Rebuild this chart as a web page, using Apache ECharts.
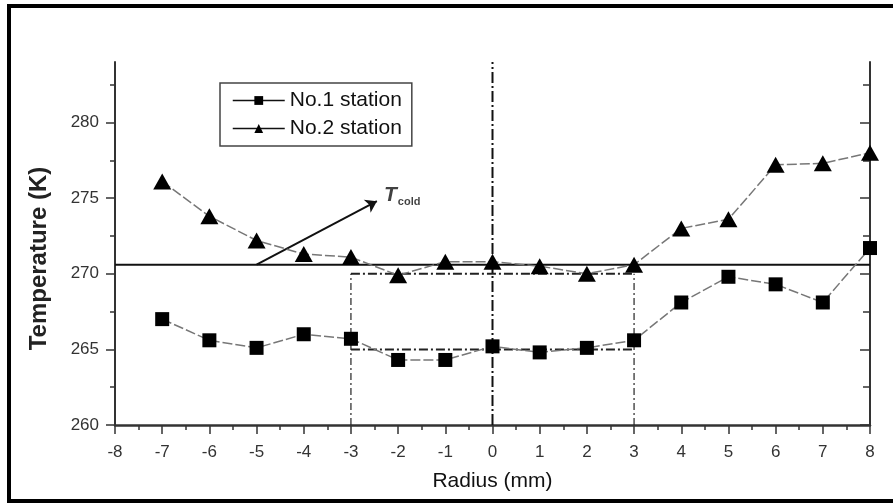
<html lang="en">

<head>
    <meta charset="UTF-8">
    <title>Temperature vs Radius</title>
    <script src="https://cdn.jsdelivr.net/npm/echarts@6/dist/echarts.min.js"></script>
    <style>
        html, body { margin: 0; padding: 0; background: #fff; }
        #chart { width: 893px; height: 503px; }
    </style>
</head>

<body>
    <div id="chart"></div>

    <script>
        // radius positions (mm)
        var radius = [-7, -6, -5, -4, -3, -2, -1, 0, 1, 2, 3, 4, 5, 6, 7, 8];
        // temperatures (K)
        var station1 = [267.0, 265.6, 265.1, 266.0, 265.7, 264.3, 264.3, 265.2, 264.8, 265.1, 265.6, 268.1, 269.8, 269.3, 268.1, 271.7];
        var station2 = [276.1, 273.8, 272.2, 271.3, 271.1, 269.9, 270.8, 270.8, 270.5, 270.0, 270.6, 273.0, 273.6, 277.2, 277.3, 278.0];
        var yTicks = [260, 265, 270, 275, 280];

        // annotation lines
        var tCold = 270.6;
        var coldLine = [[-8, tCold], [8, tCold]];
        var centerLine = [[0, 260], [0, 284]];
        var sideLines = [[[-3, 260], [-3, 270]], [[3, 260], [3, 270]]];
        var levelLines = [[[-3, 270], [3, 270]], [[-3, 265], [3, 265]]];
        var arrow = [[-5, tCold], [-2.45, 274.8]];
        var tColdLabelAt = [-2.3, 275.2];

        function pairs(ys) {
            return radius.map(function (x, i) { return [x, ys[i]]; });
        }

        var font = '"Liberation Sans", Arial, sans-serif';
        var dashDot = [9, 3, 2, 3];

        var chart = echarts.init(document.getElementById('chart'));

        var series = [];

        series.push({
            type: 'line', data: coldLine, symbol: 'none', silent: true, z: 2,
            lineStyle: { color: '#111', width: 2 }
        });
        series.push({
            type: 'line', data: centerLine, symbol: 'none', silent: true, z: 2,
            lineStyle: { color: '#111', width: 2, type: [11, 3, 2, 3] }
        });
        sideLines.forEach(function (d) {
            series.push({
                type: 'line', data: d, symbol: 'none', silent: true, z: 2,
                lineStyle: { color: '#222', width: 1.2, type: [7, 3, 2, 3] }
            });
        });
        levelLines.forEach(function (d) {
            series.push({
                type: 'line', data: d, symbol: 'none', silent: true, z: 2,
                lineStyle: { color: '#222', width: 2, type: dashDot }
            });
        });
        series.push({
            type: 'lines', coordinateSystem: 'cartesian2d', silent: true, z: 3,
            symbol: ['none', 'arrow'], symbolSize: 11,
            data: [{ coords: arrow }],
            lineStyle: { color: '#111', width: 2, opacity: 1 }
        });
        series.push({
            type: 'scatter', data: [tColdLabelAt], symbolSize: 0, silent: true,
            label: {
                show: true, position: 'right', distance: 0,
                formatter: '{t|T}{s|cold}',
                rich: {
                    t: { fontSize: 21, fontWeight: 'bold', fontStyle: 'italic', fontFamily: font, color: '#111' },
                    s: { fontSize: 11, fontWeight: 'bold', fontFamily: font, color: '#111', padding: [14, 0, 0, 1] }
                }
            }
        });

        series.push({
            name: 'No.1 station', type: 'line', data: pairs(station1), z: 5,
            symbol: 'rect', symbolSize: 14,
            itemStyle: { color: '#000' },
            lineStyle: { color: '#777', width: 1.5, type: [10, 3] }
        });
        series.push({
            name: 'No.2 station', type: 'line', data: pairs(station2), z: 5,
            symbol: 'triangle', symbolSize: [18, 16],
            itemStyle: { color: '#000' },
            lineStyle: { color: '#777', width: 1.5, type: [10, 3] }
        });

        var option = {
            animation: false,
            backgroundColor: '#fff',
            textStyle: { fontFamily: font },
            grid: { left: 115, right: 23, top: 62, bottom: 78 },
            legend: {
                data: ['No.1 station', 'No.2 station'],
                orient: 'vertical', left: 220, top: 83,
                padding: [7, 10, 7, 12], itemGap: 7,
                itemWidth: 52, itemHeight: 11,
                borderColor: '#444', borderWidth: 1.5,
                lineStyle: { type: 'solid', color: '#111', width: 1.5 },
                textStyle: { fontSize: 21, color: '#111', fontFamily: font }
            },
            xAxis: {
                type: 'value', min: -8, max: 8, interval: 1,
                name: 'Radius (mm)', nameLocation: 'middle', nameGap: 46,
                nameTextStyle: { fontSize: 21, color: '#111', fontFamily: font },
                axisLine: { onZero: false, lineStyle: { color: '#333', width: 2.5 } },
                axisTick: { length: 9, lineStyle: { color: '#333', width: 1.5 } },
                minorTick: { show: true, splitNumber: 2, length: 5, lineStyle: { color: '#333', width: 1.5 } },
                axisLabel: { fontSize: 17, color: '#333', margin: 19 },
                splitLine: { show: false }
            },
            yAxis: [{
                type: 'value', min: 260, max: 284, interval: 5,
                name: 'Temperature (K)', nameLocation: 'middle', nameGap: 64,
                nameTextStyle: { fontSize: 24, fontWeight: 'bold', color: '#222', fontFamily: font, padding: [0, 30, 0, 0] },
                axisLine: { onZero: false, lineStyle: { color: '#333', width: 2 } },
                axisTick: { length: 9, customValues: yTicks, lineStyle: { color: '#333', width: 1.5 } },
                minorTick: { show: true, splitNumber: 2, length: 5, lineStyle: { color: '#333', width: 1.5 } },
                axisLabel: { fontSize: 17, color: '#333', margin: 16, customValues: yTicks },
                splitLine: { show: false }
            }, {
                type: 'value', min: 260, max: 284, interval: 5, position: 'right',
                axisLine: { show: true, onZero: false, lineStyle: { color: '#333', width: 2 } },
                axisTick: { show: true, inside: true, length: 10, customValues: yTicks, lineStyle: { color: '#333', width: 1.5 } },
                minorTick: { show: true, splitNumber: 2, length: 7, lineStyle: { color: '#333', width: 1.5 } },
                axisLabel: { show: false },
                splitLine: { show: false }
            }],
            graphic: [{
                type: 'rect', silent: true, z: 100,
                shape: { x: 9, y: 6, width: 900, height: 495 },
                style: { fill: 'none', stroke: '#000', lineWidth: 4 }
            }],
            series: series
        };

        chart.setOption(option);
    </script>
</body>

</html>
